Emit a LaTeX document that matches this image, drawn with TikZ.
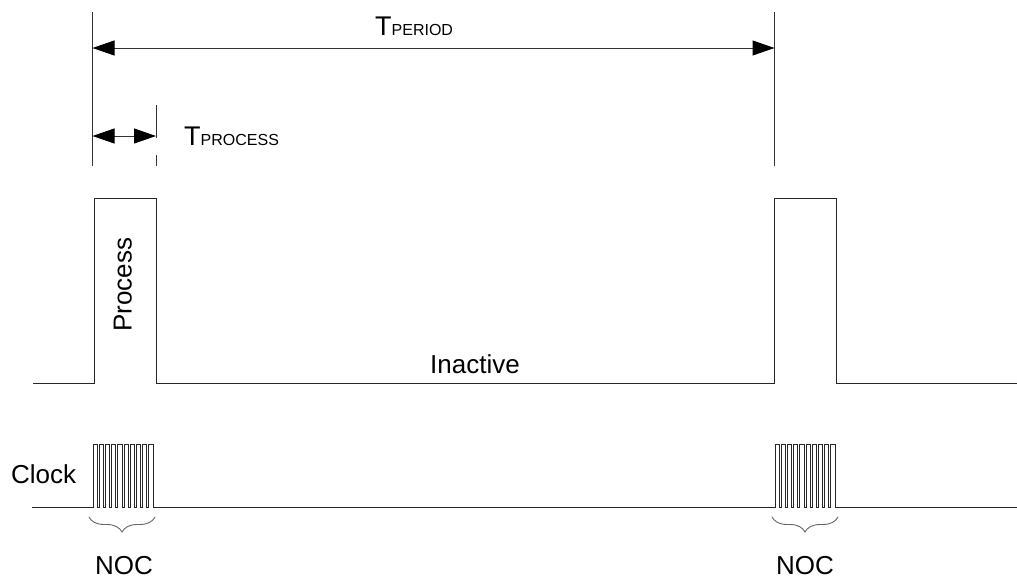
\documentclass[tikz,border=0pt]{standalone}
\usepackage{fontspec}
\setmainfont{Liberation Sans}
\usetikzlibrary{arrows.meta,decorations.pathreplacing}
\begin{document}
\begin{tikzpicture}[x=1pt,y=-1pt,
  wave/.style={line width=1pt,draw=black!85},
  extline/.style={line width=1pt,draw=black!80},
  dimarrow/.style={line width=1pt,draw=black!80,{Triangle[length=22pt,width=15pt,fill=black,color=black]}-{Triangle[length=22pt,width=15pt,fill=black,color=black]}},
  bracestyle/.style={line width=0.9pt,draw=black!60,decorate,decoration={brace,mirror,amplitude=15pt}},
  lbl/.style={inner sep=0pt,font=\fontsize{26}{26}\selectfont},
  big/.style={inner sep=0pt,font=\fontsize{27}{27}\selectfont}]
\useasboundingbox (0,0) rectangle (1017,581);
% extension lines
\draw[extline] (92.5,12) -- (92.5,166);
\draw[extline] (156,105) -- (156,138);
\draw[extline] (156,155) -- (156,166);
\draw[extline] (774.5,12) -- (774.5,166);
% dimension arrows
\coordinate (pL) at (92.5,48);
\coordinate (pR) at (774.5,48);
\coordinate (qL) at (92.5,136);
\coordinate (qR) at (156,136);
\draw[dimarrow] (pL) -- (pR);
\draw[dimarrow] (qL) -- (qR);
\node[big,anchor=base west] (tper) at (375,35) {T\fontsize{16}{16}\selectfont PERIOD};
\node[big,anchor=base west] (tproc) at (184,145) {T\fontsize{16}{16}\selectfont PROCESS};
% main waveform
\draw[wave] (33,383) -- (94,383) -- (94,198) -- (156,198) -- (156,383) -- (774.5,383) -- (774.5,198) -- (836.5,198) -- (836.5,383) -- (1017,383);
\node[lbl,rotate=90,anchor=base west] (proc) at (131.5,332) {Process};
\node[lbl,anchor=base] (inact) at (475,373) {Inactive};
% clock
\draw[wave] (32,507)
  \foreach \i in {0,...,9}{ -- ({93+6.2*\i},507) -- ({93+6.2*\i},444) -- ({97.3+6.2*\i},444) -- ({97.3+6.2*\i},507)}
  -- (775,507)
  \foreach \i in {0,...,9}{ -- ({775+6.2*\i},507) -- ({775+6.2*\i},444) -- ({779.3+6.2*\i},444) -- ({779.3+6.2*\i},507)}
  -- (1017,507);
\node[lbl,anchor=base west] (clk) at (11,483) {Clock};
% braces
\coordinate (b1L) at (89,517);
\coordinate (b1R) at (155,517);
\coordinate (b2L) at (772,517);
\coordinate (b2R) at (838,517);
\draw[bracestyle] (b1L) -- (b1R);
\draw[bracestyle] (b2L) -- (b2R);
\node[lbl,anchor=base] (noc1) at (124,574) {NOC};
\node[lbl,anchor=base] (noc2) at (805,574) {NOC};
\end{tikzpicture}
\end{document}
